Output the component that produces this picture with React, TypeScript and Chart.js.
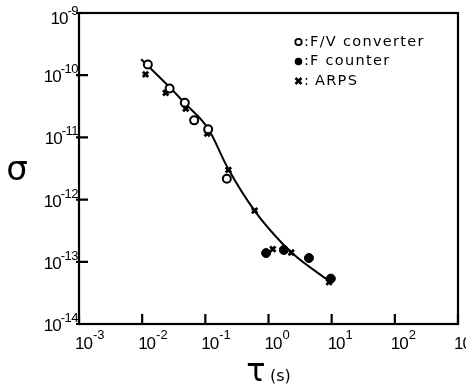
import React, { useEffect, useRef } from "react";
import { Chart, registerables } from "chart.js";

Chart.register(...registerables);

// F/V converter (open circles)
const fvX = [0.0123, 0.0272, 0.0473, 0.0665, 0.111, 0.219];
const fvY = [1.49e-10, 6.1e-11, 3.6e-11, 1.88e-11, 1.35e-11, 2.16e-12];
// F counter (filled circles)
const fcX = [0.916, 1.75, 4.37, 9.7];
const fcY = [1.38e-13, 1.55e-13, 1.15e-13, 5.37e-14];
// ARPS (crosses)
const arpsX = [0.0113, 0.0236, 0.049, 0.107, 0.232, 0.603, 1.17, 2.29, 9.1];
const arpsY = [1.03e-10, 5.2e-11, 2.9e-11, 1.15e-11, 3.0e-12, 6.65e-13, 1.6e-13, 1.41e-13, 4.7e-14];
// fitted curve
const curveX = [0.00964, 0.0272, 0.0473, 0.11, 0.229, 0.6, 1.67, 2.89, 8.7];
const curveY = [1.81e-10, 6.4e-11, 3.55e-11, 1.4e-11, 3.16e-12, 6.65e-13, 1.95e-13, 1.16e-13, 5.1e-14];

const xTickExps = [-3, -2, -1, 0, 1, 2, 3];
const yTickExps = [-9, -10, -11, -12, -13, -14];
const legendItems = ["F/V converter", "F counter", "ARPS"];
const xTitle = "τ";
const xUnit = "(s)";
const yTitle = "σ";

const pts = (xs: number[], ys: number[]) => xs.map((x, i) => ({ x, y: ys[i] }));

const FONT = '"Liberation Sans", Arial, sans-serif';
const LFONT = '"DejaVu Sans", sans-serif';

const decorPlugin = {
  id: "decor",
  afterDraw(chart: any) {
    const ctx = chart.ctx as CanvasRenderingContext2D;
    const { left, right, top, bottom } = chart.chartArea;
    const xs = chart.scales.x;
    const ys = chart.scales.y;
    ctx.save();
    ctx.strokeStyle = "#000";
    ctx.fillStyle = "#000";
    ctx.lineWidth = 2.2;
    ctx.strokeRect(left, top, right - left, bottom - top);
    // ticks
    ctx.beginPath();
    xTickExps.forEach((e) => {
      const px = xs.getPixelForValue(Math.pow(10, e));
      ctx.moveTo(px, bottom);
      ctx.lineTo(px, bottom - 10);
    });
    yTickExps.forEach((e) => {
      const py = ys.getPixelForValue(Math.pow(10, e));
      ctx.moveTo(left - 3, py);
      ctx.lineTo(left + 9, py);
    });
    ctx.stroke();
    // x labels
    ctx.textAlign = "left";
    ctx.textBaseline = "alphabetic";
    xTickExps.forEach((e) => {
      const px = xs.getPixelForValue(Math.pow(10, e));
      ctx.font = `17px ${FONT}`;
      (ctx as any).letterSpacing = "-1px";
      ctx.fillText("10", px - 4, bottom + 25);
      const w = ctx.measureText("10").width;
      (ctx as any).letterSpacing = "0px";
      ctx.font = `13px ${FONT}`;
      ctx.fillText(e < 0 ? "-" + Math.abs(e) : String(e), px - 4 + w + 1, bottom + 15);
    });
    // y labels
    yTickExps.forEach((e) => {
      const py = ys.getPixelForValue(Math.pow(10, e));
      const exp = "-" + Math.abs(e);
      ctx.font = `13px ${FONT}`;
      (ctx as any).letterSpacing = "-0.5px";
      const we = ctx.measureText(exp).width;
      ctx.font = `17px ${FONT}`;
      (ctx as any).letterSpacing = "-1px";
      const wb = ctx.measureText("10").width;
      const endX = left - 1;
      const base = Math.max(py + 7, top + 11);
      ctx.fillText("10", endX - we - wb, base);
      ctx.font = `13px ${FONT}`;
      (ctx as any).letterSpacing = "-0.5px";
      ctx.fillText(exp, endX - we, base - 9);
      (ctx as any).letterSpacing = "0px";
    });
    // axis titles
    ctx.font = `34px ${LFONT}`;
    ctx.textAlign = "center";
    ctx.fillText(yTitle, 17, 180);
    ctx.font = `32px ${LFONT}`;
    ctx.fillText(xTitle, 256, 381);
    ctx.textAlign = "left";
    ctx.font = `16px ${LFONT}`;
    ctx.fillText(xUnit, 270, 381);
    // legend
    const lx = 298.5;
    const rows = [42, 61.5, 81];
    ctx.lineWidth = 1.8;
    ctx.beginPath();
    ctx.arc(lx, rows[0], 3.2, 0, Math.PI * 2);
    ctx.stroke();
    ctx.beginPath();
    ctx.arc(lx, rows[1], 3.8, 0, Math.PI * 2);
    ctx.fill();
    ctx.lineWidth = 2.5;
    ctx.beginPath();
    ctx.moveTo(lx - 3, rows[2] - 3);
    ctx.lineTo(lx + 3, rows[2] + 3);
    ctx.moveTo(lx + 3, rows[2] - 3);
    ctx.lineTo(lx - 3, rows[2] + 3);
    ctx.stroke();
    ctx.font = `14.5px ${LFONT}`;
    ctx.textBaseline = "middle";
    legendItems.forEach((t, i) => {
      ctx.fillText(":", 304, rows[i]);
    });
    (ctx as any).letterSpacing = "1.3px";
    legendItems.forEach((t, i) => {
      ctx.fillText(t, i === 2 ? 315 : 310, rows[i]);
    });
    (ctx as any).letterSpacing = "0px";
    ctx.restore();
  },
};

export default function App() {
  const ref = useRef<HTMLCanvasElement>(null);
  useEffect(() => {
    if (!ref.current) return;
    const chart = new Chart(ref.current, {
      type: "scatter",
      data: {
        datasets: [
          {
            label: "curve",
            data: pts(curveX, curveY),
            showLine: true,
            borderColor: "#000",
            borderWidth: 2,
            pointRadius: 0,
            cubicInterpolationMode: "monotone",
            order: 3,
          } as any,
          {
            label: legendItems[0],
            data: pts(fvX, fvY),
            pointStyle: "circle",
            pointRadius: 4,
            backgroundColor: "#fff",
            borderColor: "#000",
            borderWidth: 2,
            order: 1,
          },
          {
            label: legendItems[1],
            data: pts(fcX, fcY),
            pointStyle: "circle",
            pointRadius: 4.5,
            backgroundColor: "#000",
            borderColor: "#000",
            borderWidth: 1,
            order: 1,
          },
          {
            label: legendItems[2],
            data: pts(arpsX, arpsY),
            pointStyle: "crossRot",
            pointRadius: 3.8,
            borderColor: "#000",
            borderWidth: 2.8,
            order: 2,
          },
        ],
      },
      options: {
        animation: false,
        responsive: true,
        maintainAspectRatio: false,
        layout: { padding: { left: 79, top: 13, right: 8, bottom: 62 } },
        plugins: { legend: { display: false }, tooltip: { enabled: false } },
        scales: {
          x: { type: "logarithmic", min: 1e-3, max: 1e3, display: false },
          y: { type: "logarithmic", min: 1e-14, max: 1e-9, display: false },
        },
      },
      plugins: [decorPlugin],
    });
    return () => chart.destroy();
  }, []);
  return (
    <div style={{ position: "fixed", left: 0, top: 0, width: 466, height: 386, background: "#fff" }}>
      <canvas ref={ref} />
    </div>
  );
}
